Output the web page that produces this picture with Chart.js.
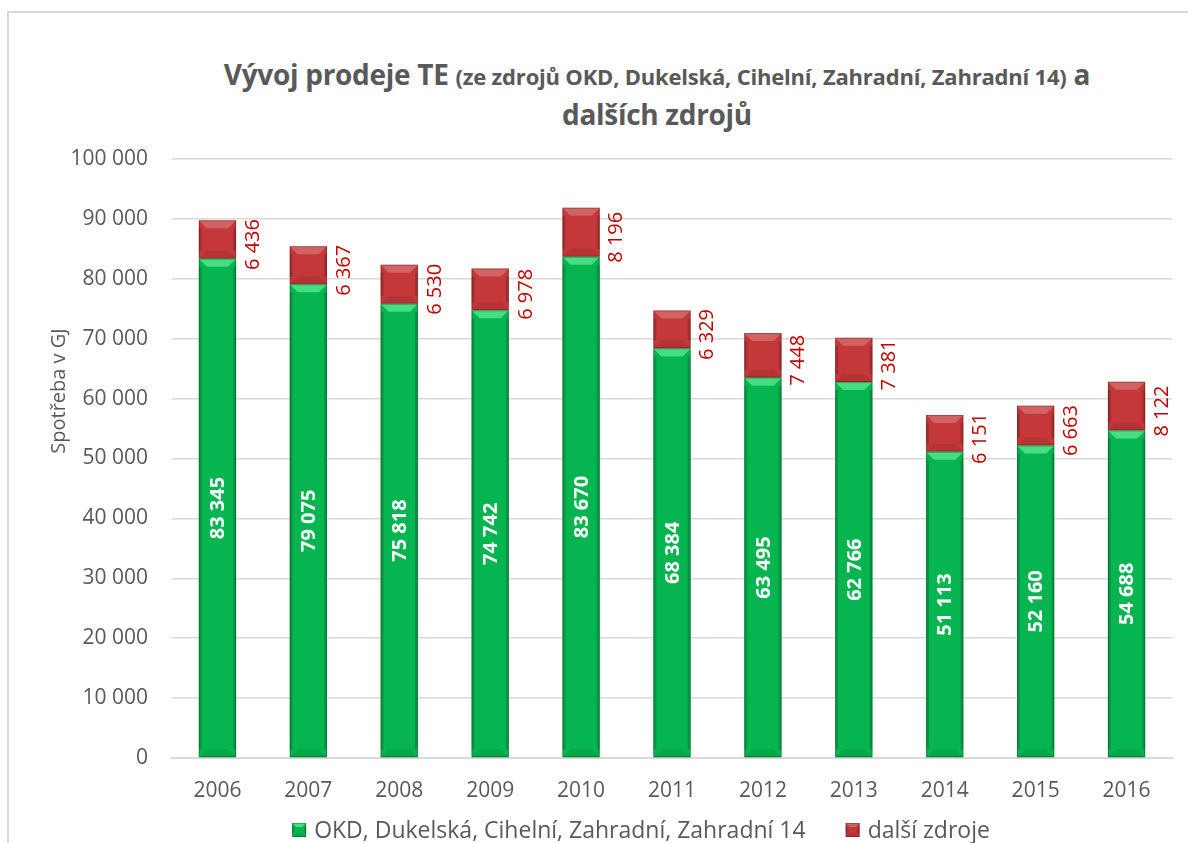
<!DOCTYPE html>
<html>
<head>
<meta charset="utf-8">
<script src="https://cdn.jsdelivr.net/npm/chart.js@4"></script>
<style>
  html, body { margin: 0; padding: 0; background: #fff; }
  #wrap { position: relative; width: 1188px; height: 843px; overflow: hidden; }
  #frame { position: absolute; left: 7px; top: 11px; width: 1200px; height: 900px; border: 2px solid #d9d9d9; box-sizing: border-box; }
  #title { position: absolute; left: 0; top: 55px; width: 1314px; text-align: center; color: #595959;
           font-family: "Open Sans", sans-serif; font-weight: bold; font-size: 28px; line-height: 38px; letter-spacing: -0.3px; }
  #title small { font-size: 22px; letter-spacing: -0.2px; }
  canvas { position: absolute; left: 0; top: 0; }
</style>
</head>
<body>
<div id="wrap">
  <div id="frame"></div>
  <div id="title">Vývoj prodeje TE <small>(ze zdrojů OKD, Dukelská, Cihelní, Zahradní, Zahradní 14)</small> a<br>dalších zdrojů</div>
  <canvas id="chart" width="1188" height="843"></canvas>
</div>
<script>
const years = ['2006', '2007', '2008', '2009', '2010', '2011', '2012', '2013', '2014', '2015', '2016'];
const okdValues = [83345, 79075, 75818, 74742, 83670, 68384, 63495, 62766, 51113, 52160, 54688];
const otherValues = [6436, 6367, 6530, 6978, 8196, 6329, 7448, 7381, 6151, 6663, 8122];
const seriesNames = ['OKD, Dukelská, Cihelní, Zahradní, Zahradní 14', 'další zdroje'];
const axisTitle = 'Spotřeba v GJ';

const GREEN = '#07b550';
const RED = '#c5383a';
const TEXT = '#595959';
const FONT = '"Open Sans", sans-serif';

function fmt(n) {
  return String(n).replace(/\B(?=(\d{3})+(?!\d))/g, ' ');
}

function bevelBox(ctx, l, t, w, h, light, d) {
  const r = l + w, b = t + h;
  ctx.save();
  ctx.fillStyle = light;
  ctx.beginPath();
  ctx.moveTo(l, t); ctx.lineTo(r, t); ctx.lineTo(r - d, t + d); ctx.lineTo(l + d, t + d);
  ctx.closePath(); ctx.fill();
  ctx.fillStyle = 'rgba(0,0,0,0.08)';
  ctx.beginPath();
  ctx.moveTo(l, b); ctx.lineTo(r, b); ctx.lineTo(r - d, b - d); ctx.lineTo(l + d, b - d);
  ctx.closePath(); ctx.fill();
  ctx.fillStyle = 'rgba(0,0,0,0.16)';
  const s = Math.min(3, d / 2);
  ctx.fillRect(l, t + d, s, h - 2 * d);
  ctx.fillRect(r - s, t + d, s, h - 2 * d);
  ctx.strokeStyle = 'rgba(0,0,0,0.25)';
  ctx.lineWidth = 1;
  ctx.strokeRect(l + 0.5, t + 0.5, w - 1, h - 1);
  ctx.restore();
}

const lightTop = ['rgba(120,255,170,0.55)', 'rgba(255,255,255,0.22)'];

// bevel look of the Excel bars
const bevelPlugin = {
  id: 'bevel',
  afterDatasetsDraw(chart) {
    const ctx = chart.ctx;
    chart.data.datasets.forEach((ds, di) => {
      chart.getDatasetMeta(di).data.forEach(bar => {
        const t = Math.min(bar.y, bar.base), b = Math.max(bar.y, bar.base);
        bevelBox(ctx, bar.x - bar.width / 2, t, bar.width, b - t, lightTop[di], Math.min(8, (b - t) / 3));
      });
    });
  }
};

// value labels: white inside green, red beside the top segment
const labelPlugin = {
  id: 'labels',
  afterDatasetsDraw(chart) {
    const ctx = chart.ctx;
    const g = chart.getDatasetMeta(0).data;
    const rd = chart.getDatasetMeta(1).data;
    ctx.save();
    ctx.textBaseline = 'middle';
    ctx.textAlign = 'center';
    g.forEach((bar, i) => {
      ctx.save();
      ctx.translate(bar.x, (bar.y + bar.base) / 2);
      ctx.rotate(-Math.PI / 2);
      ctx.font = 'bold 20px ' + FONT;
      ctx.fillStyle = '#ffffff';
      ctx.fillText(fmt(okdValues[i]), 0, 1);
      ctx.restore();
    });
    rd.forEach((bar, i) => {
      ctx.save();
      ctx.translate(bar.x + bar.width / 2 + 16, (bar.y + bar.base) / 2 + 5);
      ctx.rotate(-Math.PI / 2);
      ctx.font = '20px ' + FONT;
      ctx.fillStyle = '#c00000';
      ctx.fillText(fmt(otherValues[i]), 0, 1);
      ctx.restore();
    });
    ctx.restore();
  }
};

// axis title and legend, placed like in the Excel original
const decorPlugin = {
  id: 'decor',
  afterDraw(chart) {
    const ctx = chart.ctx;
    ctx.save();
    ctx.translate(59, 391);
    ctx.rotate(-Math.PI / 2);
    ctx.font = '20px ' + FONT;
    ctx.fillStyle = TEXT;
    ctx.textAlign = 'center';
    ctx.textBaseline = 'middle';
    ctx.fillText(axisTitle, 0, 0);
    ctx.restore();

    ctx.save();
    ctx.font = '23px ' + FONT;
    const box = 14, gapText = 8, gapItem = 40;
    const widths = seriesNames.map(n => ctx.measureText(n).width);
    const total = widths.reduce((a, w) => a + box + gapText + w, 0) + gapItem * (seriesNames.length - 1);
    let x = 641 - total / 2;
    const cy = 830;
    const colors = [GREEN, RED];
    seriesNames.forEach((n, i) => {
      ctx.fillStyle = colors[i];
      ctx.fillRect(x, cy - box / 2, box, box);
      bevelBox(ctx, x, cy - box / 2, box, box, lightTop[i], 4);
      ctx.fillStyle = TEXT;
      ctx.textBaseline = 'middle';
      ctx.textAlign = 'left';
      ctx.fillText(n, x + box + gapText, cy + 1);
      x += box + gapText + widths[i] + gapItem;
    });
    ctx.restore();
  }
};

new Chart(document.getElementById('chart'), {
  type: 'bar',
  data: {
    labels: years,
    datasets: [
      { label: seriesNames[0], data: okdValues, backgroundColor: GREEN, borderWidth: 0 },
      { label: seriesNames[1], data: otherValues, backgroundColor: RED, borderWidth: 0 }
    ]
  },
  options: {
    responsive: false,
    animation: false,
    datasets: { bar: { barPercentage: 0.41, categoryPercentage: 1 } },
    layout: { padding: { left: 10, right: 16, top: 159, bottom: 35 } },
    plugins: {
      legend: { display: false },
      tooltip: { enabled: false }
    },
    scales: {
      x: {
        stacked: true,
        grid: { display: false },
        border: { color: '#d9d9d9', width: 2 },
        ticks: { color: TEXT, padding: 12, font: { family: FONT, size: 21 } },
        afterFit(s) { s.height = 50; }
      },
      y: {
        stacked: true,
        min: 0, max: 100000,
        grid: { color: '#d9d9d9', lineWidth: 1.5, drawTicks: false },
        border: { display: false },
        ticks: {
          stepSize: 10000, padding: 24, color: TEXT,
          font: { family: FONT, size: 21 },
          callback: v => fmt(v)
        },
        afterFit(s) { s.width = 162; }
      }
    }
  },
  plugins: [bevelPlugin, labelPlugin, decorPlugin]
});
</script>
</body>
</html>
